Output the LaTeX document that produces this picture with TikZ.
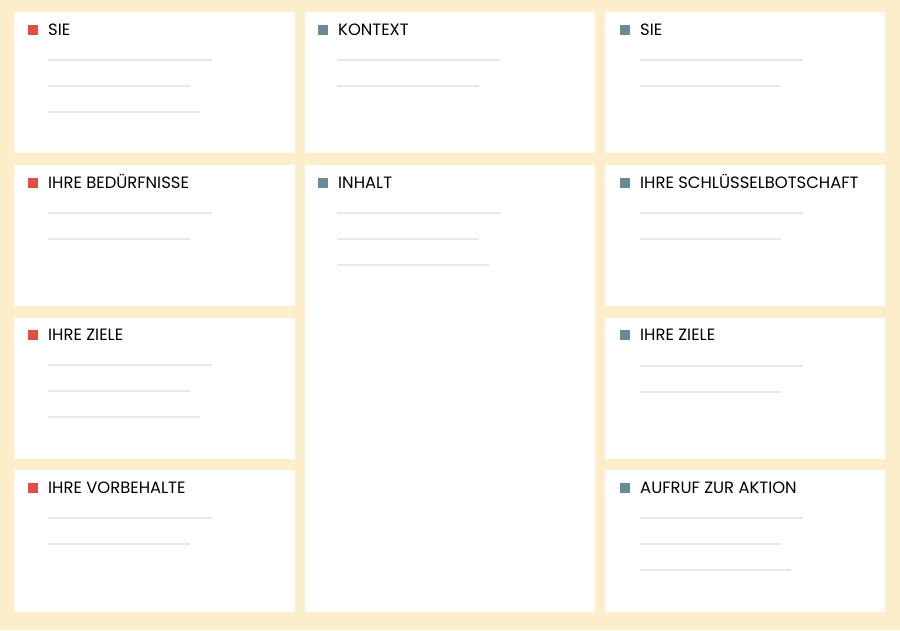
\documentclass[tikz,border=0pt]{standalone}
\usepackage{fontspec}
\setmainfont{Poppins}
\definecolor{bgc}{HTML}{FCEECB}
\definecolor{redm}{HTML}{E04E46}
\definecolor{slatem}{HTML}{6A8A96}
\definecolor{linec}{HTML}{E8E8E8}
\tikzset{
  panel/.style={fill=white, draw=none},
  marker/.style={fill=#1, minimum size=10pt, inner sep=0pt, draw=none},
  title/.style={anchor=base west, inner sep=0pt, font=\fontsize{16.4}{18}\selectfont, text=black},
  ph/.style={draw=linec, line width=2pt},
}
\begin{document}
\begin{tikzpicture}[x=1pt,y=-1pt]
\fill[bgc] (0,0) rectangle (900,630);
\useasboundingbox (0,0) rectangle (900,630);
% panels
\fill[panel] (14,12) rectangle (295,153);
\fill[panel] (14,165) rectangle (295,306);
\fill[panel] (14,318) rectangle (295,459);
\fill[panel] (14,470) rectangle (295,612);
\fill[panel] (305,12) rectangle (595,153);
\fill[panel] (305,165) rectangle (595,612);
\fill[panel] (605,12) rectangle (885,153);
\fill[panel] (605,165) rectangle (885,306);
\fill[panel] (605,318) rectangle (885,459);
\fill[panel] (605,470) rectangle (885,612);
\newcommand{\mypanel}[5]{% x marker, y title, color, text, name
  \node[marker=#3] (m#5) at (#1+5,#2) {};
  \node[title] (t#5) at (#1+20,#2+5.8) {#4};
}
\newcommand{\myline}[4]{% x start, y, length, name
  \coordinate (a#4) at (#1,#2);
  \coordinate (b#4) at (#1+#3,#2);
  \draw[ph] (a#4) -- (b#4);
}
% left column
\mypanel{28}{30}{redm}{SIE}{L1}
\myline{48}{60}{164}{L1a}\myline{48}{86}{142}{L1b}\myline{48}{112}{152}{L1c}
\mypanel{28}{183}{redm}{IHRE BEDÜRFNISSE}{L2}
\myline{48}{213}{164}{L2a}\myline{48}{239}{142}{L2b}
\mypanel{28}{335}{redm}{IHRE ZIELE}{L3}
\myline{48}{365}{164}{L3a}\myline{48}{391}{142}{L3b}\myline{48}{417}{152}{L3c}
\mypanel{28}{488}{redm}{IHRE VORBEHALTE}{L4}
\myline{48}{518}{164}{L4a}\myline{48}{544}{142}{L4b}
% middle column
\mypanel{318}{30}{slatem}{KONTEXT}{M1}
\myline{337}{60}{164}{M1a}\myline{337}{86}{142}{M1b}
\mypanel{318}{183}{slatem}{INHALT}{M2}
\myline{337}{213}{164}{M2a}\myline{337}{239}{142}{M2b}\myline{337}{265}{152}{M2c}
% right column
\mypanel{620}{30}{slatem}{SIE}{R1}
\myline{640}{60}{163}{R1a}\myline{640}{86}{141}{R1b}
\mypanel{620}{183}{slatem}{IHRE SCHLÜSSELBOTSCHAFT}{R2}
\myline{640}{213}{163}{R2a}\myline{640}{239}{141}{R2b}
\mypanel{620}{335}{slatem}{IHRE ZIELE}{R3}
\myline{640}{366}{163}{R3a}\myline{640}{392}{141}{R3b}
\mypanel{620}{488}{slatem}{AUFRUF ZUR AKTION}{R4}
\myline{640}{518}{163}{R4a}\myline{640}{544}{141}{R4b}\myline{640}{570}{151}{R4c}
\end{tikzpicture}
\end{document}
